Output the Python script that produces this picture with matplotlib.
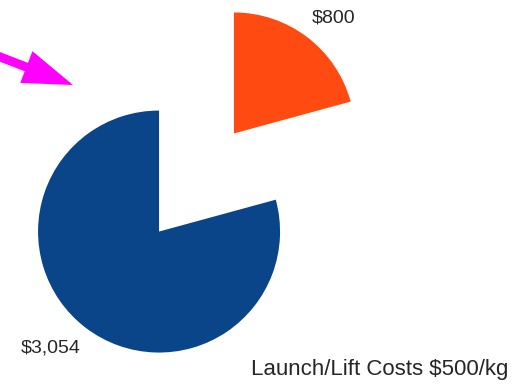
import matplotlib.pyplot as plt
from matplotlib.patches import FancyArrow

# launch/lift cost split
labels = ['$800', '$3,054']
values = [800, 3054]
colors = ['#ff4a12', '#0a4589']

W, H = 518, 387
R = 121
fig = plt.figure(figsize=(W / 100, H / 100), dpi=100)
ax = fig.add_axes([0, 0, 1, 1])

# explode is applied in data units, so scale by the radius
ax.pie(values, colors=colors, startangle=90, counterclock=False,
       explode=[0.51 * R, 0.51 * R], center=(196.5, 204.5), radius=R,
       wedgeprops=dict(linewidth=0), frame=True)
ax.set_xlim(0, W)
ax.set_ylim(0, H)
ax.set_aspect('equal')
ax.axis('off')

font = dict(family='Liberation Sans', color='#262626')
ax.text(334, H - 18, f'${values[0]:,}', ha='center', va='center', fontsize=14, **font)
ax.text(51, H - 348, f'${values[1]:,}', ha='center', va='center', fontsize=14, **font)
ax.text(508, H - 370, 'Launch/Lift Costs $500/kg', ha='right', va='center',
        fontsize=16, **font)

# pointer arrow coming in from the left edge
ax.add_patch(FancyArrow(-5, H - 55, 78, -30, width=9, head_width=34,
                        head_length=50, length_includes_head=True,
                        color='#ff00ff', lw=0))

fig.savefig('out.png', dpi=100)
